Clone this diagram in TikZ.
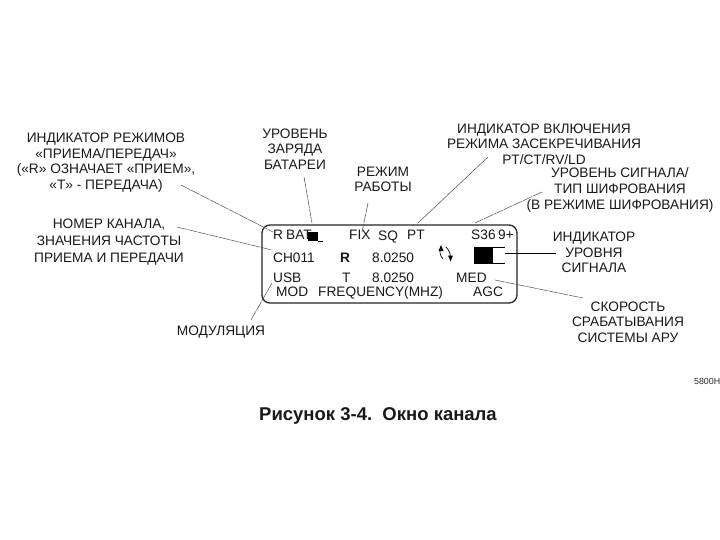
\documentclass[tikz,border=0pt]{standalone}
\usepackage{fontspec}
\setmainfont{Liberation Sans}
\tikzset{
  lbl/.style={align=center,font=\fontsize{13.7}{15.7}\selectfont,inner sep=0pt,text=black!90},
  scr/.style={anchor=base west,font=\fontsize{13.7}{15}\selectfont,inner sep=0pt,text=black!90},
  lead/.style={draw=black!70,line width=0.5pt},
  leadd/.style={draw=black!65,line width=0.55pt,dash pattern=on 10pt off 0.8pt},
}
\begin{document}
\begin{tikzpicture}[x=1pt,y=-1pt]
\useasboundingbox[fill=white] (0,0) rectangle (720,540);
\node[lbl] (t1) at (106,162.5) {ИНДИКАТОР РЕЖИМОВ\\«ПРИЕМА/ПЕРЕДАЧ»\\(«R» ОЗНАЧАЕТ «ПРИЕМ»,\\«T» - ПЕРЕДАЧА)};
\node[lbl,font=\fontsize{13.7}{17}\selectfont] (t2) at (109,242) {НОМЕР КАНАЛА,\\ЗНАЧЕНИЯ ЧАСТОТЫ\\ПРИЕМА И ПЕРЕДАЧИ};
\node[lbl] (t3) at (295,149) {УРОВЕНЬ\\ЗАРЯДА\\БАТАРЕИ};
\node[lbl] (t4) at (383,179.5) {РЕЖИМ\\РАБОТЫ};
\node[lbl] (t5) at (544,144) {ИНДИКАТОР ВКЛЮЧЕНИЯ\\РЕЖИМА ЗАСЕКРЕЧИВАНИЯ\\PT/CT/RV/LD};
\node[lbl] (t6) at (620,190) {УРОВЕНЬ СИГНАЛА/\\ТИП ШИФРОВАНИЯ\\(В РЕЖИМЕ ШИФРОВАНИЯ)};
\node[lbl] (t7) at (594,252.5) {ИНДИКАТОР\\УРОВНЯ\\СИГНАЛА};
\node[lbl] (t8) at (628,322) {СКОРОСТЬ\\СРАБАТЫВАНИЯ\\СИСТЕМЫ АРУ};
\node[lbl] (t9) at (221,332) {МОДУЛЯЦИЯ};
\node[anchor=base west,inner sep=0pt,font=\fontsize{8.8}{10}\selectfont,text=black!85] (code) at (694,384) {5800H};
\node[inner sep=0pt,font=\bfseries\fontsize{18.5}{21}\selectfont,text=black!90] (cap) at (378,416) {Рисунок 3-4.\ \ Окно канала};
% window
\node[draw=black!85,line width=1.3pt,rounded corners=8pt,minimum width=255pt,minimum height=78pt,inner sep=0pt] (win) at (389.5,264) {};
% screen texts
\node[scr] (a1) at (273,240) {R};
\node[scr] (a2) at (286,240) {BAT};
\node[scr] (a3) at (349,240) {FIX};
\node[scr] (a4) at (378,240.5) {SQ};
\node[scr] (a5) at (407,240) {PT};
\node[scr] (a6) at (471,240) {S3};
\node[scr] (a6b) at (488,240) {6};
\node[scr] (a6c) at (498,240) {9+};
\node[scr] (b1) at (273,262) {CH011};
\node[scr,font=\bfseries\fontsize{13.7}{15}\selectfont] (b2) at (340,262) {R};
\node[scr] (b3) at (372,262) {8.0250};
\node[scr] (c1) at (273,282) {USB};
\node[scr] (c2) at (342,282) {T};
\node[scr] (c3) at (372,282) {8.0250};
\node[scr] (c4) at (456,282) {MED};
\node[scr] (d1) at (276,296) {MOD};
\node[scr] (d2) at (318,296) {FREQUENCY(MHZ)};
\node[scr] (d3) at (473,296) {AGC};
% battery
\fill[black] (308,232) rectangle (318,241);
\coordinate (batEnd) at (323,241);
\draw[black,line width=0.8pt] (318,241) -- (batEnd);
% signal bar
\fill[black] (474,247) rectangle (493,264);
\draw[black,line width=0.8pt] (493,247) -- (505,247) (493,263.5) -- (505,263.5);
\coordinate (sig) at (505,253.5);
% arrows
\draw[black,line width=0.7pt] (441,248) .. controls (439,251) and (440,256) .. (443,259);
\fill[black] (441,245) -- (438.5,251) -- (443.5,251) -- cycle;
\draw[black,line width=0.7pt] (450,258) .. controls (451,254) and (449,250) .. (446,247);
\fill[black] (450.5,261.5) -- (448,255.5) -- (453,255.5) -- cycle;
% leaders
\coordinate (e1) at (273,232);
\coordinate (e2) at (272,250);
\coordinate (e3) at (312,223);
\coordinate (e4) at (362,232);
\coordinate (e5) at (418,223);
\coordinate (e6) at (475,223);
\coordinate (e8) at (495,280);
\coordinate (e9) at (272,283);
\coordinate (s1) at (181,185);
\coordinate (s2) at (177,227);
\coordinate (s3) at (304,177);
\coordinate (s4) at (368,203);
\coordinate (s5) at (488,157);
\coordinate (s6) at (542,192);
\coordinate (s7) at (556,253.5);
\coordinate (s8) at (583,298);
\coordinate (s9) at (251,320);
\draw[leadd] (s1) -- (e1);
\draw[leadd] (s2) -- (e2);
\draw[leadd] (s3) -- (e3);
\draw[leadd] (s4) -- (e4);
\draw[lead] (s5) -- (e5);
\draw[leadd] (s6) -- (e6);
\draw[black,line width=0.8pt] (sig) -- (s7);
\draw[leadd] (e8) -- (s8);
\draw[leadd] (e9) -- (s9);
\end{tikzpicture}
\end{document}
